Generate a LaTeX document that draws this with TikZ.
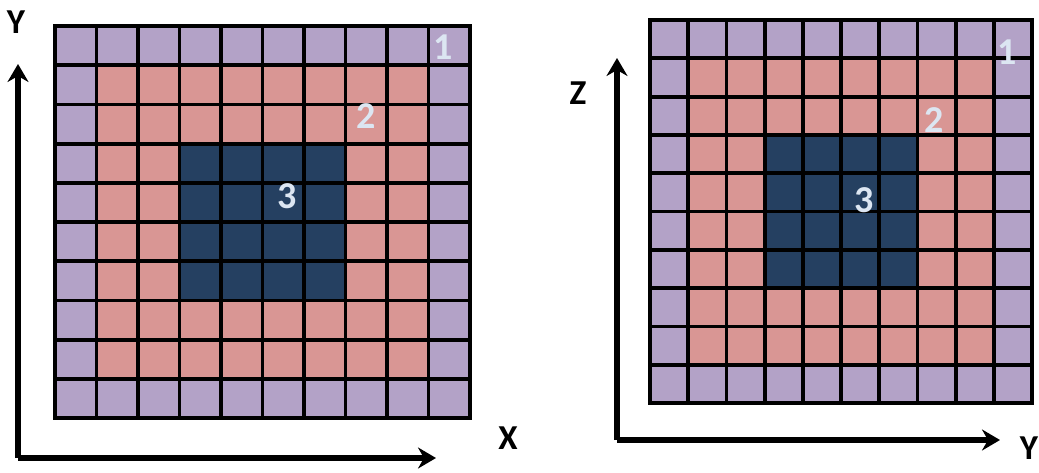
\documentclass[tikz,border=0pt]{standalone}
\usepackage{fontspec}
\setmainfont{Carlito}
\usepackage{tikz}
\usetikzlibrary{arrows.meta,positioning}
\definecolor{ring0}{HTML}{B3A2C7}
\definecolor{ring1}{HTML}{D99694}
\definecolor{ring2}{HTML}{D99694}
\definecolor{ring3}{HTML}{254061}
\definecolor{tagtext}{HTML}{DCE6F2}
\tikzset{
  cell/.style={draw=black,line width=3.8pt},
  frame/.style={draw=black,line width=4.6pt},
  axisarr/.style={-{Stealth[length=18pt,width=21pt,inset=6pt]},line width=5.5pt},
  axislabel/.style={font=\fontsize{35}{35}\selectfont\bfseries,inner sep=0pt},
  tag/.style={font=\fontsize{38}{38}\selectfont\bfseries,text=tagtext,inner sep=0pt}
}

\begin{document}
\begin{tikzpicture}[x=1pt,y=-1pt]
  \useasboundingbox (0,0) rectangle (1039,472);

  % left grid (X-Y plane)
  \begin{scope}[xshift=55pt,yshift=-26pt,x=41.5pt,y=-39.2pt]
    \foreach \i in {0,...,9} {
      \foreach \j in {0,...,9} {
        \pgfmathtruncatemacro{\r}{min(3,\i,\j,9-\i,9-\j)}
        \draw[cell,fill=ring\r] (\i,\j) rectangle ++(1,1);
      }
    }
    \draw[frame] (0,0) rectangle (10,10);
    \node[tag] (xyone)   at (9.35,0.55) {1};
    \node[tag] (xytwo)   at (7.5,2.3) {2};
    \node[tag] (xythree) at (5.6,4.35) {3};
  \end{scope}

  % right grid (Y-Z plane)
  \begin{scope}[xshift=650pt,yshift=-20pt,x=38.2pt,y=-38.3pt]
    \foreach \i in {0,...,9} {
      \foreach \j in {0,...,9} {
        \pgfmathtruncatemacro{\r}{min(3,\i,\j,9-\i,9-\j)}
        \draw[cell,fill=ring\r] (\i,\j) rectangle ++(1,1);
      }
    }
    \draw[frame] (0,0) rectangle (10,10);
    \node[tag] (yzone)   at (9.35,0.85) {1};
    \node[tag] (yztwo)   at (7.45,2.6) {2};
    \node[tag] (yzthree) at (5.6,4.7) {3};
  \end{scope}

  % axes
  \coordinate (origL) at (18,458);
  \coordinate (tipLy) at (18,64);
  \coordinate (tipLx) at (436,458);
  \draw[axisarr] (origL) -- (tipLy);
  \draw[axisarr] (origL) -- (tipLx);
  \node[axislabel] (labLy) at (16,22) {Y};
  \node[axislabel] (labLx) at (508,438) {X};

  \coordinate (origR) at (617,440);
  \coordinate (tipRz) at (617,58);
  \coordinate (tipRy) at (1000,440);
  \draw[axisarr] (origR) -- (tipRz);
  \draw[axisarr] (origR) -- (tipRy);
  \node[axislabel] (labRz) at (578,93) {Z};
  \node[axislabel] (labRy) at (1029,448) {Y};
\end{tikzpicture}
\end{document}
